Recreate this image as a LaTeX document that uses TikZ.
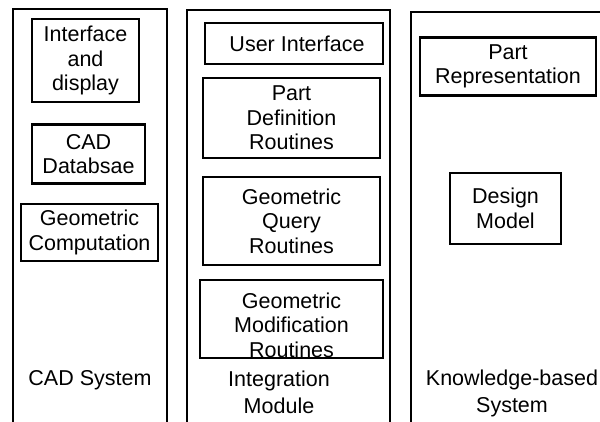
\documentclass[tikz,border=0pt]{standalone}
\usepackage{fontspec}
\setmainfont{Liberation Sans}
\begin{document}
\begin{tikzpicture}[x=1pt,y=-1pt,
  panel/.style={line width=2pt},
  box/.style={draw, line width=2.2pt, align=center, inner sep=0pt,
    font=\fontsize{21.5}{24.5}\selectfont},
  boxtext/.style={align=center, inner sep=0pt, font=\fontsize{21.5}{24.5}\selectfont},
  lbl/.style={align=center, inner sep=0pt, font=\fontsize{21.5}{26.5}\selectfont}]
\useasboundingbox (0,0) rectangle (600,422);
% panels
\draw[panel] (13,430) -- (13,9) -- (167,9) -- (167,430);
\draw[panel] (187,430) -- (187,10) -- (390,10) -- (390,430);
\draw[panel] (411,430) -- (411,12) -- (610,12);
% CAD system boxes
\node[box, minimum width=107, minimum height=83] (ifd) at (85.5,60.5) {Interface\\and\\display};
\node[box, minimum width=113, minimum height=59] (cadb) at (88.5,154) {CAD\\Databsae};
\node[box, minimum width=137, minimum height=57] (gcomp) at (89.5,232.5) {Geometric\\Computation};
% integration module boxes
\node[box, minimum width=178, minimum height=41] (ui) at (294,43.5) {\hspace*{6pt}User Interface};
\node[box, minimum width=177, minimum height=80] (pdr) at (291.5,118) {Part\\Definition\\Routines};
\node[box, minimum width=177, minimum height=88] (gqr) at (291.5,221) {Geometric\\Query\\Routines};
\node[box, minimum width=183, minimum height=78] (gmr) at (291.5,319) {};
\node[boxtext] (gmrt) at ([yshift=-6pt]gmr.center) {Geometric\\Modification\\Routines};
% knowledge-based boxes
\node[box, minimum width=176, minimum height=58] (pr) at (508,66.5) {Part\\Representation};
\node[box, minimum width=111, minimum height=71] (dm) at (505.5,208.5) {Design\\Model};
% panel labels
\node[lbl, anchor=base] (cadsys) at (90,385) {CAD System};
\node[lbl, anchor=base] (intmod) at (279,413) {Integration\\Module};
\node[lbl, anchor=base] (kbs) at (512,412) {Knowledge-based\\System};
\end{tikzpicture}
\end{document}
